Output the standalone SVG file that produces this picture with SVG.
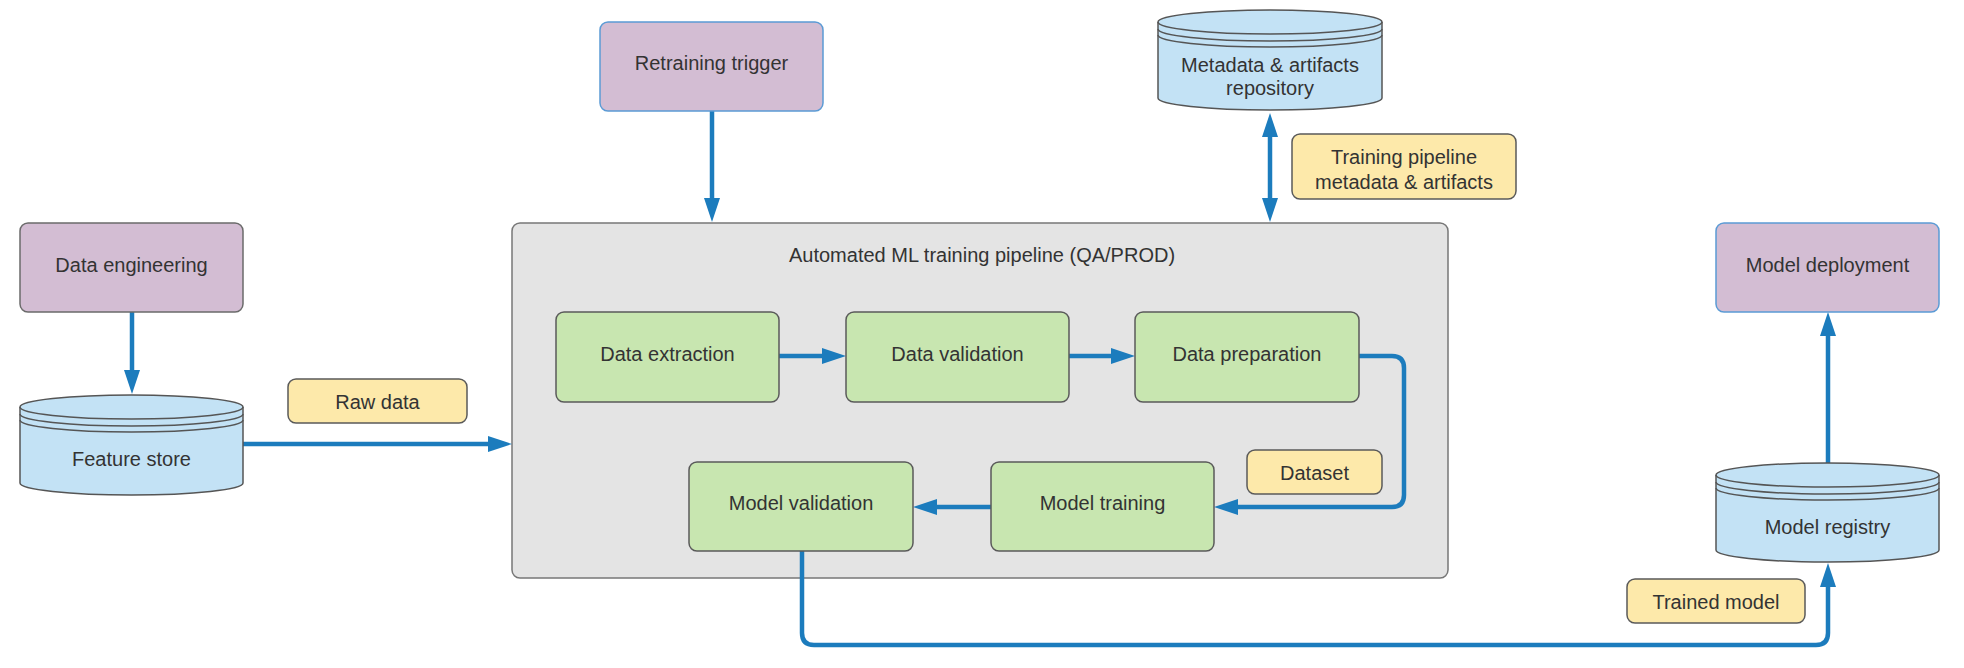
<svg xmlns="http://www.w3.org/2000/svg" width="1964" height="668" viewBox="0 0 1964 668">
<style>
text{font-family:"Liberation Sans",Arial,sans-serif;font-size:20px;fill:#333;text-anchor:middle}
.proc{fill:#d3bdd3;stroke:#6b6b6b;stroke-width:1.5}
.procb{fill:#d3bdd3;stroke:#5b9bd5;stroke-width:1.5}
.step{fill:#c8e6b0;stroke:#5a5a5a;stroke-width:1.5}
.lbl{fill:#fde9aa;stroke:#5a5a5a;stroke-width:1.5}
.db{fill:#c3e2f5;stroke:#555;stroke-width:1.5}
.dbl{fill:none;stroke:#555;stroke-width:1.5}
.cont{fill:#e4e4e4;stroke:#777;stroke-width:1.5}
.conn{fill:none;stroke:#1c7cbd;stroke-width:4.5;marker-end:url(#ah)}
</style>
<defs>
<marker id="ah" markerUnits="userSpaceOnUse" markerWidth="24" markerHeight="18" viewBox="0 0 24 18" refX="13" refY="9" orient="auto-start-reverse">
<path d="M0,1 L24,9 L0,17 z" fill="#1c7cbd"/>
</marker>
</defs>
<rect width="1964" height="668" fill="#fff"/>

<g id="pipeline">
<rect class="cont" x="512" y="223" width="936" height="355" rx="8"/>
<text x="982" y="262">Automated ML training pipeline (QA/PROD)</text>
</g>

<g id="connectors">
<path class="conn" d="M132,312 V383"/>
<path class="conn" d="M243,444 H501"/>
<path class="conn" d="M712,111 V211"/>
<path class="conn" d="M1270,124 V211" style="marker-start:url(#ah)"/>
<path class="conn" d="M779,356 H835"/>
<path class="conn" d="M1069,356 H1124"/>
<path class="conn" d="M1359,356 H1392 Q1404,356 1404,368 V495 Q1404,507 1392,507 H1225"/>
<path class="conn" d="M991,507 H924"/>
<path class="conn" d="M802,551 V633 Q802,645 814,645 H1816 Q1828,645 1828,633 V574"/>
<path class="conn" d="M1828,463 V323"/>
</g>

<g id="data-engineering">
<rect class="proc" x="20" y="223" width="223" height="89" rx="8"/>
<text x="131.5" y="272">Data engineering</text>
</g>

<g id="feature-store">
<path class="db" d="M20,407 A111.5,12 0 0 1 243,407 V483 A111.5,12 0 0 1 20,483 Z"/>
<path class="dbl" d="M20,407 A111.5,12 0 0 0 243,407 M20,414 A111.5,12 0 0 0 243,414 M20,420 A111.5,12 0 0 0 243,420"/>
<text x="131.5" y="466">Feature store</text>
</g>

<g id="raw-data-label">
<rect class="lbl" x="288" y="379" width="179" height="44" rx="8"/>
<text x="377.5" y="409">Raw data</text>
</g>

<g id="retraining-trigger">
<rect class="procb" x="600" y="22" width="223" height="89" rx="8"/>
<text x="711.5" y="70">Retraining trigger</text>
</g>

<g id="metadata-repository">
<path class="db" d="M1158,22 A112,12 0 0 1 1382,22 V98 A112,12 0 0 1 1158,98 Z"/>
<path class="dbl" d="M1158,22 A112,12 0 0 0 1382,22 M1158,29 A112,12 0 0 0 1382,29 M1158,35 A112,12 0 0 0 1382,35"/>
<text x="1270" y="72">Metadata &amp; artifacts</text>
<text x="1270" y="95">repository</text>
</g>

<g id="training-metadata-label">
<rect class="lbl" x="1292" y="134" width="224" height="65" rx="8"/>
<text x="1404" y="164">Training pipeline</text>
<text x="1404" y="189">metadata &amp; artifacts</text>
</g>

<g id="data-extraction">
<rect class="step" x="556" y="312" width="223" height="90" rx="8"/>
<text x="667.5" y="361">Data extraction</text>
</g>

<g id="data-validation">
<rect class="step" x="846" y="312" width="223" height="90" rx="8"/>
<text x="957.5" y="361">Data validation</text>
</g>

<g id="data-preparation">
<rect class="step" x="1135" y="312" width="224" height="90" rx="8"/>
<text x="1247" y="361">Data preparation</text>
</g>

<g id="dataset-label">
<rect class="lbl" x="1247" y="450" width="135" height="44" rx="8"/>
<text x="1314.5" y="480">Dataset</text>
</g>

<g id="model-training">
<rect class="step" x="991" y="462" width="223" height="89" rx="8"/>
<text x="1102.5" y="510">Model training</text>
</g>

<g id="model-validation">
<rect class="step" x="689" y="462" width="224" height="89" rx="8"/>
<text x="801" y="510">Model validation</text>
</g>

<g id="model-deployment">
<rect class="procb" x="1716" y="223" width="223" height="89" rx="8"/>
<text x="1827.5" y="272">Model deployment</text>
</g>

<g id="model-registry">
<path class="db" d="M1716,475 A111.5,12 0 0 1 1939,475 V550 A111.5,12 0 0 1 1716,550 Z"/>
<path class="dbl" d="M1716,475 A111.5,12 0 0 0 1939,475 M1716,482 A111.5,12 0 0 0 1939,482 M1716,488 A111.5,12 0 0 0 1939,488"/>
<text x="1827.5" y="534">Model registry</text>
</g>

<g id="trained-model-label">
<rect class="lbl" x="1627" y="579" width="178" height="44" rx="8"/>
<text x="1716" y="609">Trained model</text>
</g>
</svg>
